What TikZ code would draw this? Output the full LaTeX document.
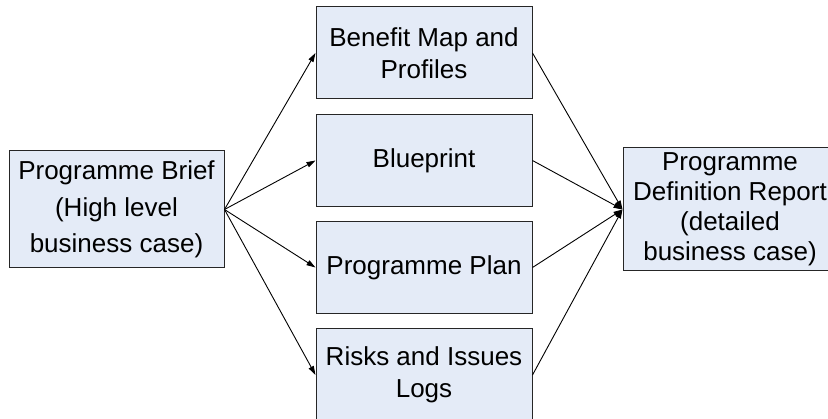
\documentclass[tikz,border=0pt]{standalone}
\usepackage{fontspec}
\setmainfont{Liberation Sans}
\usetikzlibrary{arrows.meta}
\definecolor{boxfill}{RGB}{228,235,247}
\begin{document}
\begin{tikzpicture}[x=1pt,y=-1pt,
  box/.style={draw=black!85, line width=1pt, fill=boxfill, rectangle, inner sep=0pt,
    align=center, font=\fontsize{26}{32.5}\selectfont},
  conn/.style={draw=black, line width=0.9pt, -{Triangle[length=9pt,width=5.5pt]}}]
\useasboundingbox (0,0) rectangle (828,419);
\clip (0,0) rectangle (828,419);
\node[box, minimum width=215pt, minimum height=117pt, font=\fontsize{26}{36.5}\selectfont] (brief) at (116.5,209.5) {Programme Brief\\(High level\\business case)};
\node[box, minimum width=216pt, minimum height=92pt] (benefit) at (424,53) {Benefit Map and\\Profiles};
\node[box, minimum width=216pt, minimum height=92pt] (blueprint) at (424,160.5) {Blueprint};
\node[box, minimum width=216pt, minimum height=92pt] (plan) at (424,267.5) {Programme Plan};
\node[box, minimum width=216pt, minimum height=92pt] (risks) at (424,375) {Risks and Issues\\Logs};
\path[draw=black!85, line width=1pt, fill=boxfill] (623,148) rectangle (860,271);
\node[box, draw=none, fill=none, minimum width=214pt, minimum height=123pt, font=\fontsize{26}{30}\selectfont] (pdr) at (730,209.5) {Programme\\Definition Report\\(detailed\\business case)};
\foreach \n in {benefit,blueprint,plan,risks}{
  \draw[conn] (brief.east) -- (\n.west);
  \draw[conn] (\n.east) -- (pdr.west);
}
\end{tikzpicture}
\end{document}
